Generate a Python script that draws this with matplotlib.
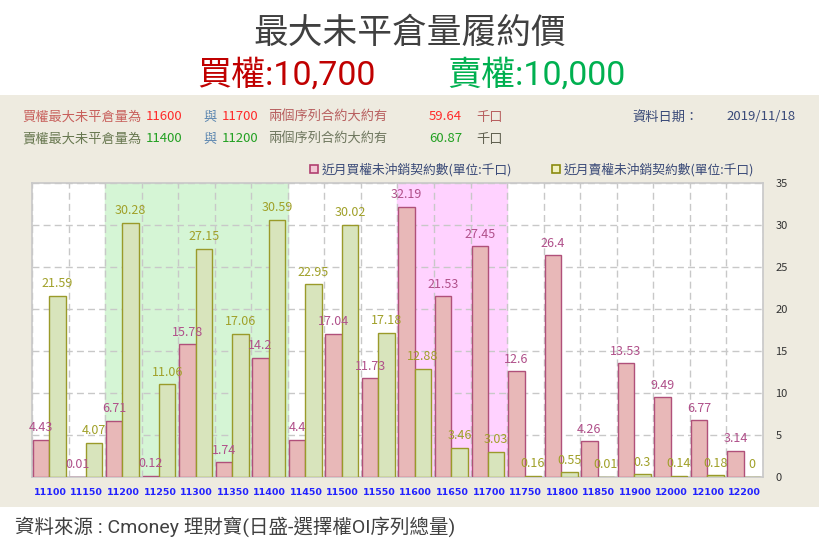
import numpy as np
import matplotlib
matplotlib.use("Agg")
import matplotlib.pyplot as plt
from matplotlib.patches import Rectangle
from matplotlib.lines import Line2D

plt.rcParams['font.family'] = ['Noto Sans CJK TC', 'DejaVu Sans']
latin_first = ['Roboto', 'Noto Sans CJK TC']

# 履約價 / 未平倉量 (千口)
strikes = ['11100', '11150', '11200', '11250', '11300', '11350', '11400',
           '11450', '11500', '11550', '11600', '11650', '11700', '11750',
           '11800', '11850', '11900', '12000', '12100', '12200']
call_oi = [4.43, 0.01, 6.71, 0.12, 15.78, 1.74, 14.2, 4.4, 17.04, 11.73,
           32.19, 21.53, 27.45, 12.6, 26.4, 4.26, 13.53, 9.49, 6.77, 3.14]
put_oi = [21.59, 4.07, 30.28, 11.06, 27.15, 17.06, 30.59, 22.95, 30.02, 17.18,
          12.88, 3.46, 3.03, 0.16, 0.55, 0.01, 0.3, 0.14, 0.18, 0]
yticks = [0, 5, 10, 15, 20, 25, 30, 35]

put_zone = (2, 6)    # 11200 ~ 11400
call_zone = (10, 12)  # 11600 ~ 11700

fig = plt.figure(figsize=(8.2, 5.5), dpi=100)
fig.patch.set_facecolor('white')

# 米色底板
fig.patches.append(Rectangle((0, (550 - 507) / 550), 1, 412 / 550,
                             transform=fig.transFigure, facecolor='#EEEBE0',
                             edgecolor='none', zorder=-10))

# 標題
fig.text(0.5, 1 - 33 / 550, '最大未平倉量履約價', ha='center', va='center',
         fontsize=25, color='#404040')
fig.text(197 / 820, 1 - 75 / 550, '買權:10,700', ha='left', va='center',
         fontsize=24.5, color='#C00000', family=latin_first)
fig.text(447 / 820, 1 - 75 / 550, '賣權:10,000', ha='left', va='center',
         fontsize=24.5, color='#00B050', family=latin_first)

# 上方說明文字
def put_text(x, y, s, c):
    fig.text(x / 820, 1 - y / 550, s, ha='left', va='center', fontsize=9.5, color=c)

put_text(22, 117, '買權最大未平倉量為', '#C8605C')
put_text(146, 117, '11600', '#FF2A2A')
put_text(203, 117, '與', '#5B86B0')
put_text(222, 117, '11700', '#FF2A2A')
put_text(268, 117, '兩個序列合約大約有', '#B86060')
put_text(429, 117, '59.64', '#FF2A2A')
put_text(476, 117, '千口', '#B86060')
put_text(22, 139, '賣權最大未平倉量為', '#687850')
put_text(146, 139, '11400', '#22A022')
put_text(203, 139, '與', '#5B86B0')
put_text(222, 139, '11200', '#22A022')
put_text(268, 139, '兩個序列合約大約有', '#707860')
put_text(429, 139, '60.87', '#22A022')
put_text(476, 139, '千口', '#606050')
put_text(632, 117, '資料日期：', '#3A4A78')
put_text(726, 117, '2019/11/18', '#3A4A78')

# 主圖
ax = fig.add_axes([32 / 820, (550 - 477) / 550, 731 / 820, 294 / 550])
ax.set_facecolor('white')
x = np.arange(len(strikes))

ax.axvspan(put_zone[0] - 0.5, put_zone[1] + 0.5, color='#D5F5D5', zorder=0)
ax.axvspan(call_zone[0] - 0.5, call_zone[1] + 0.5, color='#FFD2FF', zorder=0)

w = 0.45
b1 = ax.bar(x - 0.25, call_oi, w, color='#E8B8B8', edgecolor='#B0507A',
            linewidth=1, zorder=3)
b2 = ax.bar(x + 0.2, put_oi, w, color='#D8E4BC', edgecolor='#9A9A2A',
            linewidth=1, zorder=3)

for xi, v in zip(x, call_oi):
    ax.annotate(f'{v:g}', (xi - 0.25, v), xytext=(0, 4), textcoords='offset points',
                ha='center', va='bottom', fontsize=9, color='#B0508A', zorder=4)
for xi, v in zip(x, put_oi):
    ax.annotate(f'{v:g}', (xi + 0.2, v), xytext=(0, 4), textcoords='offset points',
                ha='center', va='bottom', fontsize=9, color='#A0A028', zorder=4)

ax.set_xlim(-0.5, len(strikes) - 0.5)
ax.set_ylim(0, 35)
ax.set_xticks(x)
ax.set_xticklabels(strikes, fontsize=6.8, color='#2222FF', family='DejaVu Sans',
                   fontweight='bold')
ax.set_xticks(np.arange(len(strikes) + 1) - 0.5, minor=True)
ax.set_yticks(yticks)
ax.yaxis.tick_right()
ax.tick_params(axis='y', length=0, pad=9, labelsize=8, labelcolor='#333333')
ax.tick_params(axis='x', which='both', length=0, pad=8)
ax.grid(axis='x', which='minor', color='#C8C8C8', linestyle=(0, (5, 3)), linewidth=1, zorder=1)
ax.grid(axis='y', which='major', color='#C8C8C8', linestyle=(0, (5, 3)), linewidth=1, zorder=1)
ax.grid(axis='x', which='major', visible=False)
ax.set_axisbelow(True)
for s in ax.spines.values():
    s.set_color('#C8C8C8')
    s.set_linewidth(1.2)

# 圖例
handles = [Line2D([], [], linestyle='none', marker='s', markersize=6,
                  markerfacecolor='#F2C8D4', markeredgecolor='#B04070', markeredgewidth=1.2),
           Line2D([], [], linestyle='none', marker='s', markersize=6,
                  markerfacecolor='#F0F0C0', markeredgecolor='#8A8A10', markeredgewidth=1.2)]
fig.legend(handles, ['近月買權未沖銷契約數(單位:千口)', '近月賣權未沖銷契約數(單位:千口)'],
           loc='center right', bbox_to_anchor=(760 / 820, 1 - 170 / 550), ncol=2,
           frameon=False, fontsize=9.2, labelcolor='#3A4A78', handletextpad=0.2,
           columnspacing=3.0, handlelength=0.8, borderpad=0)

# 資料來源
fig.text(15 / 820, 1 - 527 / 550, '資料來源 : Cmoney 理財寶(日盛-選擇權OI序列總量)',
         ha='left', va='center', fontsize=14, color='#404040', family=latin_first)

fig.savefig('out.png', dpi=100)
